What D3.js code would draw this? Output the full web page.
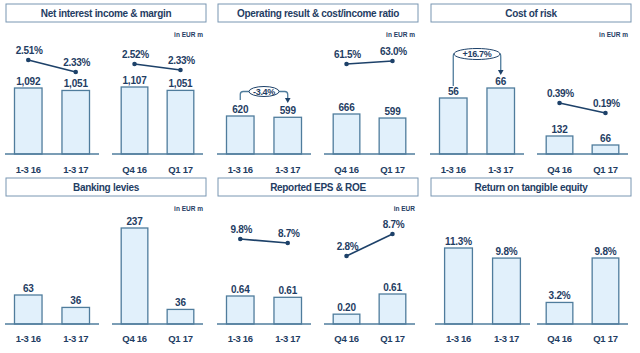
<!DOCTYPE html>
<html>
<head>
<meta charset="utf-8">
<script src="https://cdn.jsdelivr.net/npm/d3@7"></script>
<style>
  body { margin: 0; background: #fff; }
  svg { display: block; font-family: "Liberation Sans", Arial, sans-serif; font-weight: bold; }
</style>
</head>
<body>
<svg id="chart" width="640" height="353"></svg>
<script>
// data
var groupCats = [["1-3 16", "1-3 17"], ["Q4 16", "Q1 17"]];
var niiValues = [1092, 1051, 1107, 1051];
var nimValues = [2.51, 2.33, 2.52, 2.33];
var opValues = [620, 599, 666, 599];
var cirValues = [null, null, 61.5, 63.0];
var corValues = [56, 66, 132, 66];
var corRatioValues = [null, null, 0.39, 0.19];
var levyValues = [63, 36, 237, 36];
var epsValues = [0.64, 0.61, 0.20, 0.61];
var roeValues = [9.8, 8.7, 2.8, 8.7];
var rotValues = [11.3, 9.8, 3.2, 9.8];
var opChange = "-3.4%";
var corChange = "+16.7%";

var textCol = "#1f3d63";
var lineCol = "#1d4169";
var barStroke = "#4f7c9c";
var barFill = "#e1f0fb";
var boxStroke = "#7896b2";

var pct1 = v => d3.format(".1f")(v) + "%";
var pct2 = v => d3.format(".2f")(v) + "%";

var rows = [
    {y: 0, titleY: 4, base: 154, label: 169, unitY: 37},
    {y: 175, titleY: 3, base: 149, label: 163, unitY: 36}
];

var panels = [
    {x: 0, row: 0, title: "Net interest income & margin", unit: "in EUR m",
     bars: niiValues, barFmt: d3.format(","), barH: [66, 67],
     line: nimValues, lineFmt: pct2, lineY: [[72, 60], [70, 64]]},
    {x: 212, row: 0, title: "Operating result & cost/income ratio", unit: "in EUR m",
     bars: opValues, barFmt: d3.format("d"), barH: [38, 40],
     line: cirValues, lineFmt: pct1, lineY: [null, [64, 61]],
     change: {text: opChange, cy: 91.5, rx: 15, ry: 5, startY: 100, tipY: 103}},
    {x: 425, row: 0, title: "Cost of risk", unit: "in EUR m",
     bars: corValues, barFmt: d3.format("d"), barH: [66, 18],
     line: corRatioValues, lineFmt: pct2, lineY: [null, [113, 103]],
     change: {text: corChange, cy: 54, rx: 23, ry: 5.5, startY: 86, tipY: 75}},
    {x: 0, row: 1, title: "Banking levies", unit: "in EUR m",
     bars: levyValues, barFmt: d3.format("d"), barH: [29, 96]},
    {x: 212, row: 1, title: "Reported EPS & ROE", unit: "in EUR",
     bars: epsValues, barFmt: d3.format(".2f"), barH: [28, 30],
     line: roeValues, lineFmt: pct1, lineY: [[68, 64], [81, 59]]},
    {x: 425, row: 1, title: "Return on tangible equity", unit: "",
     bars: rotValues, barFmt: pct1, barH: [76, 66],
     ranges: [[10, 105], [112, 203]]}
];

var svg = d3.select("#chart");

panels.forEach(function(p) {
    var row = rows[p.row];
    var g = svg.append("g").attr("transform", `translate(${p.x},${row.y})`);
    var ranges = p.ranges || [[5, 99], [112, 203]];

    // title box
    g.append("rect")
        .attr("x", 6).attr("y", row.titleY)
        .attr("width", 200).attr("height", 18)
        .attr("fill", "#fff").attr("stroke", boxStroke).attr("stroke-width", 1);
    g.append("text")
        .attr("x", 106).attr("y", row.titleY + 13)
        .attr("text-anchor", "middle")
        .attr("font-size", 10).attr("letter-spacing", -0.3).attr("fill", textCol)
        .text(p.title);

    if (p.unit) {
        g.append("text")
            .attr("x", 203).attr("y", row.unitY)
            .attr("text-anchor", "end")
            .attr("font-size", 6.5).attr("fill", textCol)
            .text(p.unit);
    }

    var centers = [];
    [0, 1].forEach(function(gi) {
        var cats = groupCats[gi];
        var vals = p.bars.slice(gi * 2, gi * 2 + 2);
        var x = d3.scaleBand().domain(cats).range(ranges[gi])
            .paddingInner(0.42).paddingOuter(0.2);
        var y = d3.scaleLinear().domain([0, d3.max(vals)])
            .range([row.base, row.base - p.barH[gi]]);
        var data = cats.map((c, i) => ({cat: c, value: vals[i]}));
        cats.forEach(c => centers.push(x(c) + x.bandwidth() / 2));

        g.selectAll(".bar" + gi)
            .data(data)
            .join("rect")
            .attr("class", "bar" + gi)
            .attr("x", d => x(d.cat))
            .attr("y", d => y(d.value))
            .attr("width", x.bandwidth())
            .attr("height", d => row.base - y(d.value))
            .attr("fill", barFill)
            .attr("stroke", barStroke)
            .attr("stroke-width", 1.3);

        g.selectAll(".val" + gi)
            .data(data)
            .join("text")
            .attr("class", "val" + gi)
            .attr("x", d => x(d.cat) + x.bandwidth() / 2)
            .attr("y", d => y(d.value) - 3.5)
            .attr("text-anchor", "middle")
            .attr("font-size", 10).attr("letter-spacing", -0.2).attr("fill", textCol)
            .text(d => p.barFmt(d.value));

        // baseline
        g.append("line")
            .attr("x1", ranges[gi][0]).attr("x2", ranges[gi][1])
            .attr("y1", row.base).attr("y2", row.base)
            .attr("stroke", barStroke).attr("stroke-width", 1.3);

        g.selectAll(".cat" + gi)
            .data(cats)
            .join("text")
            .attr("class", "cat" + gi)
            .attr("x", d => x(d) + x.bandwidth() / 2)
            .attr("y", row.label + 3.5)
            .attr("text-anchor", "middle")
            .attr("font-size", 9.5).attr("letter-spacing", -0.3).attr("fill", textCol)
            .text(d => d);

        // ratio line over the bars
        if (p.line && p.lineY[gi]) {
            var lv = p.line.slice(gi * 2, gi * 2 + 2);
            var ly = d3.scaleLinear().domain(d3.extent(lv)).range(p.lineY[gi]);
            var pts = cats.map((c, i) => ({x: x(c) + x.bandwidth() / 2, v: lv[i]}));
            g.append("path")
                .attr("d", d3.line().x(d => d.x).y(d => ly(d.v))(pts))
                .attr("fill", "none").attr("stroke", lineCol).attr("stroke-width", 1.6);
            g.selectAll(".dot" + gi)
                .data(pts)
                .join("circle")
                .attr("class", "dot" + gi)
                .attr("cx", d => d.x).attr("cy", d => ly(d.v))
                .attr("r", 2.3).attr("fill", lineCol);
            g.selectAll(".lbl" + gi)
                .data(pts)
                .join("text")
                .attr("class", "lbl" + gi)
                .attr("x", d => d.x + 1).attr("y", d => ly(d.v) - 6)
                .attr("text-anchor", "middle")
                .attr("font-size", 10).attr("letter-spacing", -0.3).attr("fill", textCol)
                .text(d => p.lineFmt(d.v));
        }
    });

    // change bracket between the first two bars
    if (p.change) {
        var c = p.change;
        var x0 = centers[0], x1 = centers[1];
        var cx = (x0 + x1) / 2;
        var el = cx - c.rx, er = cx + c.rx;
        var path = d3.path();
        path.moveTo(x0, c.startY);
        path.lineTo(x0, c.cy + 3);
        path.quadraticCurveTo(x0, c.cy, Math.min(x0 + 3, el), c.cy);
        path.lineTo(el, c.cy);
        path.moveTo(er, c.cy);
        path.lineTo(Math.max(x1 - 3, er), c.cy);
        path.quadraticCurveTo(x1, c.cy, x1, c.cy + 3);
        path.lineTo(x1, c.tipY - 4);
        g.append("path").attr("d", path.toString())
            .attr("fill", "none").attr("stroke", barStroke).attr("stroke-width", 1.3);
        g.append("path")
            .attr("d", `M${x1 - 2.8},${c.tipY - 5}L${x1 + 2.8},${c.tipY - 5}L${x1},${c.tipY}Z`)
            .attr("fill", lineCol);
        g.append("ellipse")
            .attr("cx", cx).attr("cy", c.cy).attr("rx", c.rx).attr("ry", c.ry)
            .attr("fill", "#fff").attr("stroke", lineCol).attr("stroke-width", 1);
        g.append("text")
            .attr("x", cx).attr("y", c.cy + 3.2)
            .attr("text-anchor", "middle")
            .attr("font-size", 9).attr("letter-spacing", -0.3).attr("fill", textCol)
            .text(c.text);
    }

    if (p.row === 1) {
        g.append("line")
            .attr("x1", 5).attr("x2", 208)
            .attr("y1", 346).attr("y2", 346)
            .attr("stroke", barStroke).attr("stroke-width", 1.3);
    }
});
</script>
</body>
</html>
